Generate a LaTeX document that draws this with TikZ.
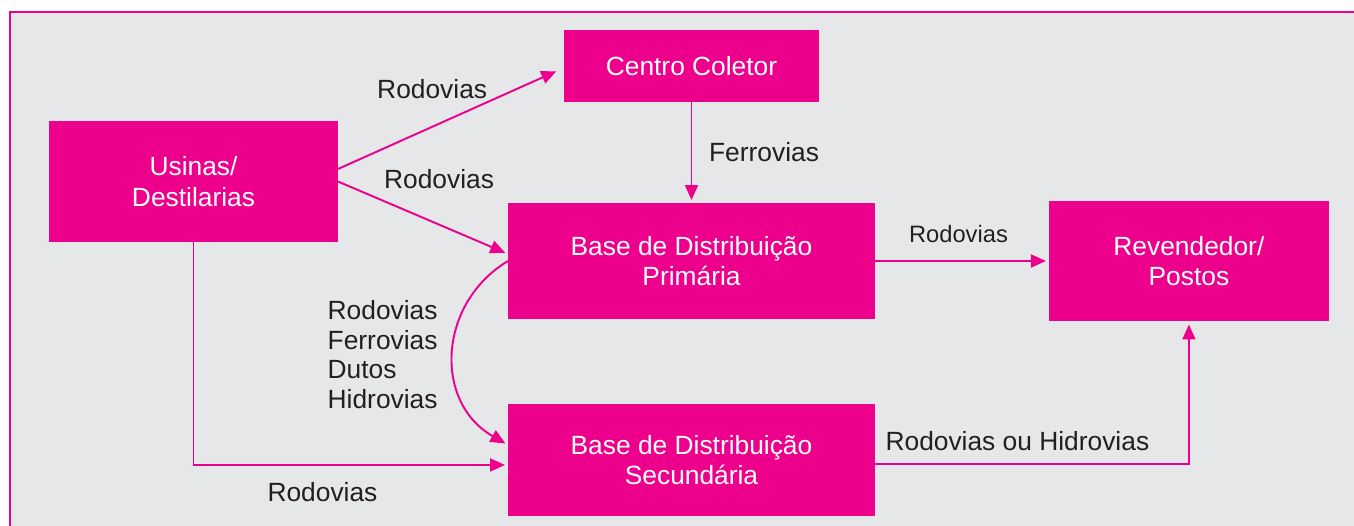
\documentclass[tikz,border=0pt]{standalone}
\usepackage{fontspec}
\setmainfont{Liberation Sans}
\usepackage{tikz}
\usetikzlibrary{arrows.meta, positioning, calc}
\definecolor{magentabox}{HTML}{EC008C}
\definecolor{bggray}{HTML}{E6E7E8}
\definecolor{txtgray}{HTML}{231F20}
\tikzset{
  every picture/.style={line width=1.1pt},
  pbox/.style={fill=magentabox, text=white, align=center, inner sep=0pt, outer sep=0pt, font=\fontsize{15}{17.5}\selectfont},
  desc/.style={text=txtgray, inner sep=1.5pt, font=\fontsize{15}{17}\selectfont}
}
\begin{document}
\begin{tikzpicture}[tips=proper, x=0.02cm, y=-0.02cm]
    \tikzset{
      -{Triangle[length=0.3cm, width=0.26cm]},
      shorten >=0.06cm,
      draw=magentabox,
      descsm/.style={desc, font=\fontsize{13.5}{16}\selectfont},
    }
    \useasboundingbox (0,0) rectangle (1354,526);
    \fill[bggray] (10,12) rectangle (1354,526);
    \draw[-, shorten >=0pt, magentabox, line width=0.8pt] (10,526) |- (1354,12);

    \node[pbox, minimum width=7.34cm, minimum height=2.32cm] (prim) at (691.5,261) {Base de Distribuição\\Primária};
    \node[pbox, minimum width=7.34cm, minimum height=2.24cm, below=1.7cm of prim] (sec) {Base de Distribuição\\Secundária};
    \node[pbox, minimum width=5.1cm, minimum height=1.44cm, above=2.02cm of prim] (centro) {Centro Coletor};
    \node[pbox, minimum width=5.6cm, minimum height=2.42cm, right=3.48cm of prim] (revend) {Revendedor/\\Postos};
    \node[pbox, minimum width=5.78cm, minimum height=2.42cm] (usinas) at (193.5,181.5) {Usinas/\\Destilarias};

    \draw ([yshift=0.25cm]usinas.east) edge[magentabox] node[desc, pos=0.7, anchor=south east, xshift=-0.04cm, yshift=-0.06cm] {Rodovias} ([xshift=-0.1cm, yshift=-0.08cm]centro.west);
    \draw (usinas.east) edge[magentabox] node[desc, pos=0.25, anchor=south west, yshift=0.14cm] {Rodovias} ([yshift=0.14cm]prim.west);
    \draw (centro) edge[magentabox] node[desc, right=0.28cm] {Ferrovias} (prim);
    \draw (prim) edge[magentabox] node[descsm, above=0.3cm, pos=0.48] {Rodovias} (revend);

    \draw[magentabox] (prim.west) .. controls +(-70,42) and +(-75,-43) .. node[desc, align=left, left=0.25cm, midway, yshift=-0.04cm] {Rodovias\\Ferrovias\\Dutos\\Hidrovias} ([yshift=0.3cm]sec.west);
    \draw[magentabox] (usinas) |- node[desc, below=0.28cm, pos=0.705] {Rodovias} ([yshift=-0.1cm]sec.west);
    \draw[magentabox] ([yshift=-0.08cm]sec.east) -| node[desc, pos=0, anchor=south west, xshift=0.14cm, yshift=0.2cm] {Rodovias ou Hidrovias} (revend);
  \end{tikzpicture}
\end{document}
